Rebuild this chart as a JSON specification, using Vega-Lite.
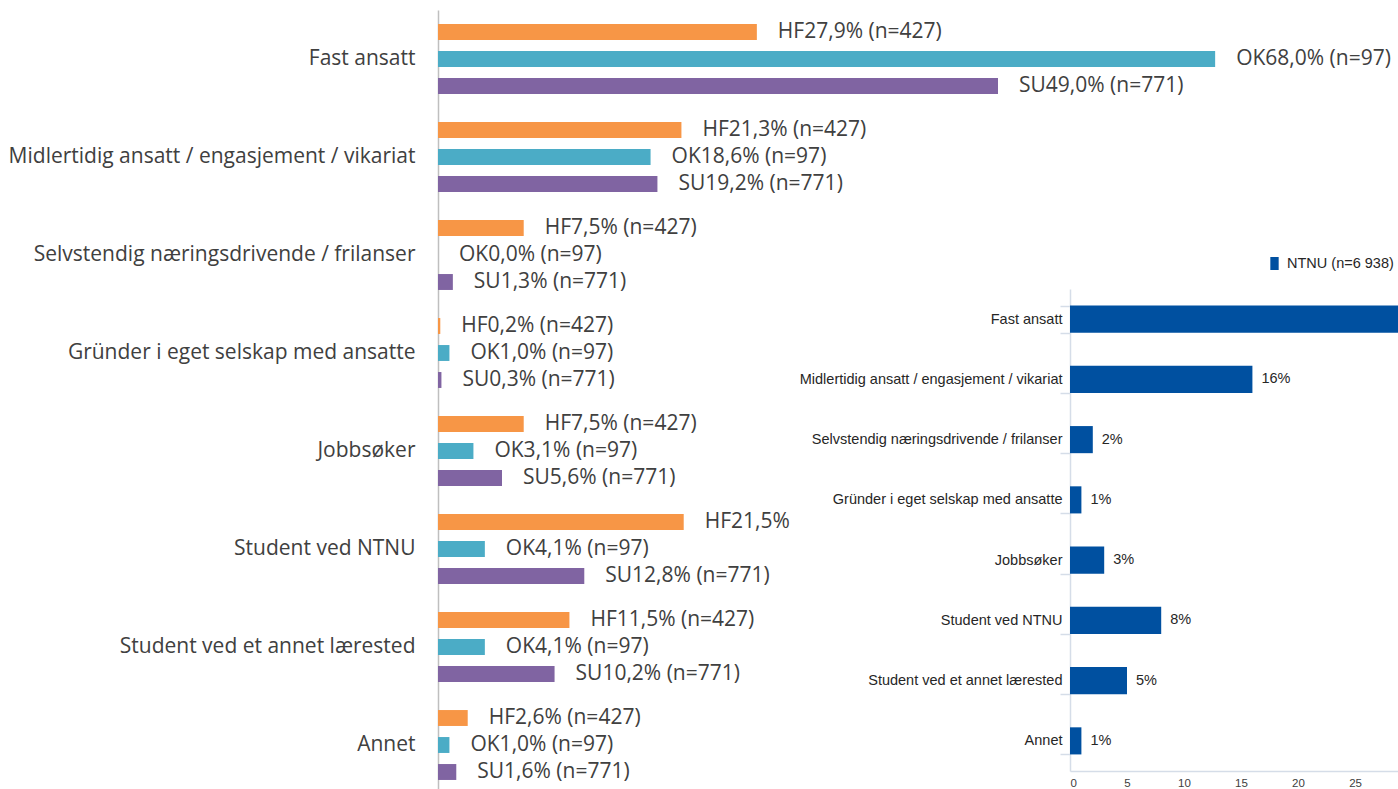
{
  "$schema": "https://vega.github.io/schema/vega-lite/v6.json",
  "width": 960,
  "height": 784,
  "autosize": "none",
  "padding": {"left": 438, "top": 10, "right": 0, "bottom": 0},
  "background": "white",
  "config": {"view": {"stroke": null}},
  "datasets": {
    "groups": [
      {"cat": "Fast ansatt", "grp": "HF", "v": 27.9, "label": "HF27,9% (n=427)"},
      {"cat": "Fast ansatt", "grp": "OK", "v": 68.0, "label": "OK68,0% (n=97)"},
      {"cat": "Fast ansatt", "grp": "SU", "v": 49.0, "label": "SU49,0% (n=771)"},
      {"cat": "Midlertidig ansatt / engasjement / vikariat", "grp": "HF", "v": 21.3, "label": "HF21,3% (n=427)"},
      {"cat": "Midlertidig ansatt / engasjement / vikariat", "grp": "OK", "v": 18.6, "label": "OK18,6% (n=97)"},
      {"cat": "Midlertidig ansatt / engasjement / vikariat", "grp": "SU", "v": 19.2, "label": "SU19,2% (n=771)"},
      {"cat": "Selvstendig næringsdrivende / frilanser", "grp": "HF", "v": 7.5, "label": "HF7,5% (n=427)"},
      {"cat": "Selvstendig næringsdrivende / frilanser", "grp": "OK", "v": 0.0, "label": "OK0,0% (n=97)"},
      {"cat": "Selvstendig næringsdrivende / frilanser", "grp": "SU", "v": 1.3, "label": "SU1,3% (n=771)"},
      {"cat": "Gründer i eget selskap med ansatte", "grp": "HF", "v": 0.2, "label": "HF0,2% (n=427)"},
      {"cat": "Gründer i eget selskap med ansatte", "grp": "OK", "v": 1.0, "label": "OK1,0% (n=97)"},
      {"cat": "Gründer i eget selskap med ansatte", "grp": "SU", "v": 0.3, "label": "SU0,3% (n=771)"},
      {"cat": "Jobbsøker", "grp": "HF", "v": 7.5, "label": "HF7,5% (n=427)"},
      {"cat": "Jobbsøker", "grp": "OK", "v": 3.1, "label": "OK3,1% (n=97)"},
      {"cat": "Jobbsøker", "grp": "SU", "v": 5.6, "label": "SU5,6% (n=771)"},
      {"cat": "Student ved NTNU", "grp": "HF", "v": 21.5, "label": "HF21,5% (n=427)"},
      {"cat": "Student ved NTNU", "grp": "OK", "v": 4.1, "label": "OK4,1% (n=97)"},
      {"cat": "Student ved NTNU", "grp": "SU", "v": 12.8, "label": "SU12,8% (n=771)"},
      {"cat": "Student ved et annet lærested", "grp": "HF", "v": 11.5, "label": "HF11,5% (n=427)"},
      {"cat": "Student ved et annet lærested", "grp": "OK", "v": 4.1, "label": "OK4,1% (n=97)"},
      {"cat": "Student ved et annet lærested", "grp": "SU", "v": 10.2, "label": "SU10,2% (n=771)"},
      {"cat": "Annet", "grp": "HF", "v": 2.6, "label": "HF2,6% (n=427)"},
      {"cat": "Annet", "grp": "OK", "v": 1.0, "label": "OK1,0% (n=97)"},
      {"cat": "Annet", "grp": "SU", "v": 1.6, "label": "SU1,6% (n=771)"}
    ],
    "ntnu": [
      {"cat": "Fast ansatt", "v": 64, "lab": "64%", "serie": "NTNU (n=6 938)"},
      {"cat": "Midlertidig ansatt / engasjement / vikariat", "v": 16, "lab": "16%", "serie": "NTNU (n=6 938)"},
      {"cat": "Selvstendig næringsdrivende / frilanser", "v": 2, "lab": "2%", "serie": "NTNU (n=6 938)"},
      {"cat": "Gründer i eget selskap med ansatte", "v": 1, "lab": "1%", "serie": "NTNU (n=6 938)"},
      {"cat": "Jobbsøker", "v": 3, "lab": "3%", "serie": "NTNU (n=6 938)"},
      {"cat": "Student ved NTNU", "v": 8, "lab": "8%", "serie": "NTNU (n=6 938)"},
      {"cat": "Student ved et annet lærested", "v": 5, "lab": "5%", "serie": "NTNU (n=6 938)"},
      {"cat": "Annet", "v": 1, "lab": "1%", "serie": "NTNU (n=6 938)"}
    ]
  },
  "layer": [
    {
      "data": {"name": "groups"},
      "encoding": {
        "y": {
          "field": "cat", "type": "nominal",
          "sort": ["Fast ansatt", "Midlertidig ansatt / engasjement / vikariat", "Selvstendig næringsdrivende / frilanser", "Gründer i eget selskap med ansatte", "Jobbsøker", "Student ved NTNU", "Student ved et annet lærested", "Annet"],
          "scale": {"paddingInner": 0, "paddingOuter": 0},
          "axis": {"title": null, "ticks": false, "domainColor": "#bfbfbf", "domainWidth": 1.5, "labelFont": "Open Sans", "labelFontSize": 21, "labelColor": "#404040", "labelPadding": 23, "labelLimit": 600}
        },
        "yOffset": {"field": "grp", "sort": ["HF", "OK", "SU"], "scale": {"paddingInner": 0.41, "paddingOuter": 0.52}},
        "x": {"field": "v", "type": "quantitative", "scale": {"domain": [0, 84]}, "axis": null}
      },
      "layer": [
        {
          "mark": {"type": "bar"},
          "encoding": {
            "color": {"field": "grp", "type": "nominal", "scale": {"domain": ["HF", "OK", "SU"], "range": ["#f79646", "#4bacc6", "#8064a2"]}, "legend": null}
          }
        },
        {
          "transform": [{"filter": "!(datum.cat === 'Student ved NTNU' && datum.grp === 'HF')"}],
          "mark": {"type": "text", "align": "left", "baseline": "middle", "dx": 21, "font": "Open Sans", "fontSize": 21, "color": "#404040"},
          "encoding": {"text": {"field": "label"}}
        },
        {
          "transform": [{"filter": "datum.cat === 'Student ved NTNU' && datum.grp === 'HF'"}],
          "mark": {"type": "text", "align": "left", "baseline": "middle", "dx": 21, "font": "Open Sans", "fontSize": 21, "color": "#404040", "limit": 86, "ellipsis": "\u200b"},
          "encoding": {"text": {"field": "label"}}
        }
      ]
    },
    {
      "data": {"name": "ntnu"},
      "encoding": {
        "y": {
          "field": "cat", "type": "nominal",
          "sort": ["Fast ansatt", "Midlertidig ansatt / engasjement / vikariat", "Selvstendig næringsdrivende / frilanser", "Gründer i eget selskap med ansatte", "Jobbsøker", "Student ved NTNU", "Student ved et annet lærested", "Annet"],
          "scale": {"range": [279, 761], "paddingInner": 0.55, "paddingOuter": 0.275},
          "axis": {"orient": "left", "offset": -632, "title": null, "domainColor": "#d5dde8", "domainWidth": 1.5, "tickColor": "#d5dde8", "tickWidth": 1.5, "tickSize": 10, "tickBand": "extent", "labelFont": "Liberation Sans", "labelFontSize": 14.5, "labelColor": "#262626", "labelPadding": -2, "labelLimit": 400}
        },
        "x": {
          "field": "v", "type": "quantitative",
          "scale": {"domain": [0, 28.77], "range": [632, 960], "nice": false},
          "axis": {"orient": "bottom", "offset": -23, "title": null, "values": [0, 5, 10, 15, 20, 25], "grid": false, "ticks": false, "domainColor": "#d5dde8", "domainWidth": 1.5, "labelFont": "Liberation Sans", "labelFontSize": 11.5, "labelColor": "#404040", "labelPadding": 6}
        }
      },
      "layer": [
        {
          "mark": {"type": "bar", "clip": true},
          "encoding": {
            "color": {"field": "serie", "type": "nominal", "scale": {"range": ["#0050a0"]},
              "legend": {"title": null, "orient": "none", "legendX": 829, "legendY": 246, "symbolType": "M-0.64,-1H0.64V1H-0.64Z", "symbolSize": 170, "labelFont": "Liberation Sans", "labelFontSize": 14.5, "labelColor": "#262626", "labelOffset": 5}
            }
          }
        },
        {
          "mark": {"type": "text", "align": "left", "baseline": "middle", "dx": 9, "font": "Liberation Sans", "fontSize": 14.5, "color": "#262626", "clip": true},
          "encoding": {"text": {"field": "lab"}}
        }
      ]
    }
  ],
  "resolve": {"scale": {"x": "independent", "y": "independent", "color": "independent"}, "axis": {"x": "independent", "y": "independent"}}
}
